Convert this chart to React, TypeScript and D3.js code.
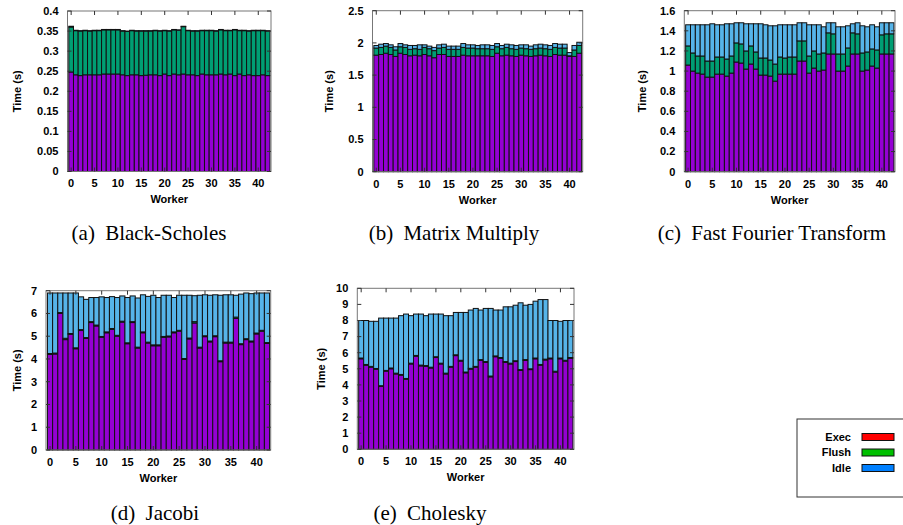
import React from "react";
import * as d3 from "d3";

// ---- data: one value per worker (0..42) ----
const workers = d3.range(43);

const bsExec = [0.248, 0.241, 0.239, 0.241, 0.241, 0.241, 0.241, 0.243, 0.243, 0.243, 0.243, 0.241, 0.239, 0.241, 0.241, 0.239, 0.24, 0.241, 0.241, 0.239, 0.243, 0.239, 0.243, 0.241, 0.243, 0.241, 0.241, 0.239, 0.243, 0.241, 0.241, 0.241, 0.243, 0.241, 0.243, 0.239, 0.243, 0.239, 0.241, 0.239, 0.239, 0.241, 0.239];
const bsFlushTop = [0.36, 0.351, 0.35, 0.351, 0.35, 0.351, 0.351, 0.353, 0.353, 0.353, 0.353, 0.35, 0.349, 0.351, 0.35, 0.35, 0.35, 0.35, 0.351, 0.35, 0.351, 0.35, 0.353, 0.352, 0.361, 0.351, 0.35, 0.35, 0.351, 0.351, 0.351, 0.35, 0.353, 0.351, 0.351, 0.353, 0.351, 0.351, 0.35, 0.351, 0.351, 0.351, 0.35];
const bsTotal = [0.362, 0.352, 0.351, 0.352, 0.351, 0.352, 0.352, 0.354, 0.354, 0.354, 0.354, 0.351, 0.35, 0.352, 0.351, 0.351, 0.351, 0.351, 0.352, 0.351, 0.352, 0.351, 0.354, 0.353, 0.362, 0.352, 0.351, 0.351, 0.352, 0.352, 0.352, 0.351, 0.354, 0.352, 0.352, 0.354, 0.352, 0.352, 0.351, 0.352, 0.352, 0.352, 0.351];

const mmExec = [1.81, 1.82, 1.84, 1.82, 1.79, 1.84, 1.82, 1.8, 1.81, 1.8, 1.82, 1.8, 1.77, 1.82, 1.82, 1.79, 1.79, 1.79, 1.81, 1.8, 1.8, 1.8, 1.8, 1.8, 1.79, 1.84, 1.8, 1.81, 1.8, 1.79, 1.81, 1.8, 1.79, 1.8, 1.81, 1.8, 1.79, 1.82, 1.81, 1.81, 1.79, 1.79, 1.84];
const mmFlushTop = [1.92, 1.93, 1.95, 1.93, 1.89, 1.94, 1.93, 1.9, 1.91, 1.9, 1.93, 1.91, 1.88, 1.92, 1.93, 1.9, 1.9, 1.9, 1.93, 1.92, 1.92, 1.91, 1.91, 1.91, 1.9, 1.94, 1.91, 1.93, 1.91, 1.9, 1.92, 1.91, 1.9, 1.91, 1.92, 1.91, 1.9, 1.93, 1.92, 1.92, 1.8, 1.89, 1.96];
const mmTotal = [1.96, 1.98, 1.99, 1.97, 1.94, 1.99, 1.97, 1.96, 1.96, 1.97, 1.97, 1.95, 1.93, 1.97, 1.98, 1.95, 1.95, 1.95, 1.99, 1.97, 1.97, 1.96, 1.97, 1.97, 1.96, 1.99, 1.96, 1.98, 1.97, 1.96, 1.97, 1.97, 1.95, 1.97, 1.98, 1.97, 1.96, 1.99, 1.98, 1.98, 1.85, 1.96, 2.01];

const fftExec = [1.06, 1.0, 0.98, 0.97, 0.94, 0.94, 0.97, 0.97, 0.95, 0.98, 1.09, 1.08, 1.02, 1.07, 1.02, 0.96, 0.96, 0.95, 0.9, 0.97, 0.97, 0.97, 0.97, 1.1, 1.1, 0.98, 1.03, 1.0, 1.01, 1.17, 1.17, 1.0, 1.0, 1.05, 1.17, 1.17, 1.0, 1.01, 1.05, 1.03, 1.17, 1.17, 1.17];
const fftFlushTop = [1.25, 1.18, 1.15, 1.15, 1.1, 1.1, 1.14, 1.14, 1.12, 1.15, 1.28, 1.27, 1.2, 1.25, 1.19, 1.13, 1.13, 1.11, 1.07, 1.14, 1.13, 1.14, 1.14, 1.3, 1.3, 1.15, 1.2, 1.17, 1.18, 1.38, 1.37, 1.17, 1.17, 1.23, 1.38, 1.37, 1.18, 1.19, 1.22, 1.21, 1.36, 1.37, 1.37];
const fftTotal = [1.46, 1.46, 1.46, 1.46, 1.46, 1.47, 1.46, 1.46, 1.47, 1.47, 1.48, 1.48, 1.47, 1.47, 1.47, 1.47, 1.46, 1.45, 1.45, 1.46, 1.46, 1.46, 1.46, 1.48, 1.48, 1.46, 1.46, 1.46, 1.44, 1.48, 1.48, 1.44, 1.44, 1.45, 1.47, 1.48, 1.45, 1.44, 1.46, 1.44, 1.48, 1.48, 1.48];

const jacExec = [4.2, 4.22, 6.0, 4.85, 5.08, 4.45, 5.25, 4.9, 5.6, 5.45, 4.95, 5.15, 5.3, 5.0, 5.62, 4.67, 5.6, 4.48, 5.15, 4.7, 4.58, 4.58, 4.95, 4.97, 5.15, 5.22, 3.98, 4.88, 5.58, 4.48, 4.98, 4.75, 4.98, 3.88, 4.7, 4.7, 5.78, 4.63, 4.85, 4.75, 5.1, 5.22, 4.68];
const jacFlush = [0.04, 0.04, 0.04, 0.06, 0.04, 0.04, 0.04, 0.04, 0.04, 0.04, 0.04, 0.04, 0.04, 0.04, 0.04, 0.04, 0.04, 0.04, 0.04, 0.04, 0.04, 0.04, 0.04, 0.04, 0.04, 0.04, 0.04, 0.04, 0.06, 0.04, 0.04, 0.04, 0.04, 0.04, 0.04, 0.04, 0.06, 0.04, 0.04, 0.04, 0.04, 0.04, 0.04];
const jacTotal = [6.9, 6.9, 6.9, 6.9, 6.9, 6.9, 6.73, 6.62, 6.7, 6.7, 6.73, 6.7, 6.74, 6.7, 6.77, 6.7, 6.77, 6.68, 6.82, 6.75, 6.8, 6.7, 6.8, 6.8, 6.7, 6.8, 6.8, 6.8, 6.78, 6.8, 6.82, 6.8, 6.82, 6.8, 6.82, 6.82, 6.8, 6.85, 6.9, 6.87, 6.9, 6.9, 6.9];

const chExec = [5.62, 5.22, 5.1, 4.97, 3.9, 4.85, 5.0, 4.68, 4.6, 4.35, 5.3, 5.78, 5.18, 5.15, 5.05, 5.7, 5.3, 4.68, 5.1, 5.82, 5.48, 4.75, 4.98, 5.1, 5.52, 5.4, 4.5, 5.75, 5.65, 5.4, 5.3, 5.45, 4.9, 5.52, 4.95, 5.62, 5.22, 5.55, 5.62, 4.8, 5.62, 5.48, 5.65];
const chFlush = [0.05, 0.05, 0.05, 0.05, 0.05, 0.05, 0.05, 0.05, 0.05, 0.05, 0.05, 0.05, 0.05, 0.05, 0.05, 0.05, 0.05, 0.05, 0.05, 0.05, 0.05, 0.05, 0.05, 0.05, 0.05, 0.05, 0.05, 0.05, 0.05, 0.05, 0.05, 0.05, 0.05, 0.05, 0.05, 0.05, 0.05, 0.05, 0.05, 0.05, 0.05, 0.05, 0.05];
const chTotal = [8.0, 8.0, 7.95, 7.95, 8.15, 8.15, 8.15, 8.15, 8.3, 8.4, 8.3, 8.4, 8.4, 8.3, 8.4, 8.4, 8.4, 8.3, 8.3, 8.5, 8.5, 8.5, 8.65, 8.75, 8.65, 8.75, 8.75, 8.65, 8.65, 8.85, 8.85, 8.95, 9.1, 8.95, 9.0, 9.2, 9.3, 9.3, 8.0, 8.0, 7.95, 8.0, 8.0];

const xTicks = [0, 5, 10, 15, 20, 25, 30, 35, 40];
const legendItems = ["Exec", "Flush", "Idle"];

const colors = { exec: "#9400d3", flush: "#009e73", idle: "#56b4e9" };
const legendColors = ["#ff0000", "#00c000", "#0080ff"];

const font = "'Liberation Sans', Arial, sans-serif";

type PanelProps = {
  left: number; right: number; top: number; bottom: number;
  yMax: number; yTicks: number[]; yFmt: (v: number) => string; yLabelX: number;
  exec: number[]; flushTop: number[]; total: number[];
  tag: string; caption: string; capX: number; capY: number;
};

function Panel(p: PanelProps) {
  const x = d3.scaleLinear().domain([-0.78, 42.72]).range([p.left, p.right]);
  const y = d3.scaleLinear().domain([0, p.yMax]).range([p.bottom, p.top]);
  const w = x(1) - x(0);
  const stacks = workers.map((i) => [
    { y0: 0, y1: p.exec[i], c: colors.exec },
    { y0: p.exec[i], y1: p.flushTop[i], c: colors.flush },
    { y0: p.flushTop[i], y1: p.total[i], c: colors.idle },
  ]);
  return (
    <g>
      {stacks.map((segs, i) =>
        segs.map((s, j) =>
          s.y1 - s.y0 > 0 ? (
            <rect key={i + "-" + j} x={x(i) - w / 2} y={y(s.y1)} width={w}
              height={y(s.y0) - y(s.y1)} fill={s.c} stroke="#111" strokeWidth={1} />
          ) : null
        )
      )}
      <rect x={p.left} y={p.top} width={p.right - p.left} height={p.bottom - p.top}
        fill="none" stroke="#777" strokeWidth={1} />
      {p.yTicks.map((t) => (
        <g key={"y" + t}>
          <line x1={p.left} x2={p.left + 4} y1={y(t)} y2={y(t)} stroke="#333" />
          <line x1={p.right - 4} x2={p.right} y1={y(t)} y2={y(t)} stroke="#333" />
          <text x={p.left - 9} y={y(t)} dy="0.35em" textAnchor="end" fontSize={11}
            fontWeight="bold" fontFamily={font}>{p.yFmt(t)}</text>
        </g>
      ))}
      {xTicks.map((t) => (
        <g key={"x" + t}>
          <line x1={x(t)} x2={x(t)} y1={p.bottom} y2={p.bottom - 4} stroke="#333" />
          <line x1={x(t)} x2={x(t)} y1={p.top} y2={p.top + 4} stroke="#333" />
          <text x={x(t)} y={p.bottom + 12} dy="0.35em" textAnchor="middle" fontSize={11}
            fontWeight="bold" fontFamily={font}>{t}</text>
        </g>
      ))}
      <text x={(p.left + p.right) / 2} y={p.bottom + 28} dy="0.35em" textAnchor="middle"
        fontSize={11} fontWeight="bold" fontFamily={font}>Worker</text>
      <text transform={`translate(${p.yLabelX},${(p.top + p.bottom) / 2}) rotate(-90)`}
        dy="0.35em" textAnchor="middle" fontSize={11} fontWeight="bold" fontFamily={font}>Time (s)</text>
      <text x={p.capX} y={p.capY} dy="0.35em" textAnchor="middle" fontSize={21}
        fontFamily="'Liberation Serif', 'Times New Roman', serif">
        <tspan>{p.tag}</tspan>
        <tspan dx={5}>{" " + p.caption}</tspan>
      </text>
    </g>
  );
}

const stackTop = (a: number[], b: number[]) => a.map((v, i) => v + b[i]);

export default function App() {
  return (
    <svg width={903} height={525} style={{ position: "absolute", left: 0, top: 0, background: "#fff" }}>
      <Panel left={67.5} right={271} top={11} bottom={171.5} yMax={0.4} yLabelX={17}
        yTicks={d3.range(0, 0.401, 0.05)} yFmt={(v) => String(+v.toFixed(2))}
        exec={bsExec} flushTop={bsFlushTop} total={bsTotal}
        tag="(a)" caption="Black-Scholes" capX={149} capY={233} />
      <Panel left={372.5} right={582.7} top={10.7} bottom={171.7} yMax={2.5} yLabelX={329}
        yTicks={d3.range(0, 2.51, 0.5)} yFmt={(v) => String(+v.toFixed(1))}
        exec={mmExec} flushTop={mmFlushTop} total={mmTotal}
        tag="(b)" caption="Matrix Multiply" capX={454} capY={233} />
      <Panel left={684.3} right={895} top={10.7} bottom={171.7} yMax={1.6} yLabelX={641.7}
        yTicks={d3.range(0, 1.61, 0.2)} yFmt={(v) => String(+v.toFixed(1))}
        exec={fftExec} flushTop={fftFlushTop} total={fftTotal}
        tag="(c)" caption="Fast Fourier Transform" capX={772} capY={233} />
      <Panel left={46} right={270.7} top={290.7} bottom={450} yMax={7} yLabelX={17}
        yTicks={d3.range(0, 7.01, 1)} yFmt={(v) => String(v)}
        exec={jacExec} flushTop={stackTop(jacExec, jacFlush)} total={jacTotal}
        tag="(d)" caption="Jacobi" capX={155} capY={513} />
      <Panel left={357.3} right={574} top={288.3} bottom={449.3} yMax={10} yLabelX={320.7}
        yTicks={d3.range(0, 10.01, 1)} yFmt={(v) => String(v)}
        exec={chExec} flushTop={stackTop(chExec, chFlush)} total={chTotal}
        tag="(e)" caption="Cholesky" capX={430} capY={513} />
      <g>
        <rect x={797} y={419} width={120} height={78} fill="#fff" stroke="#333" strokeWidth={1} />
        {legendItems.map((name, i) => (
          <g key={name}>
            <text x={851} y={437 + i * 15.5} dy="0.35em" textAnchor="end" fontSize={11}
              fontWeight="bold" fontFamily={font}>{name}</text>
            <rect x={862} y={433.5 + i * 15.5} width={32} height={7} fill={legendColors[i]}
              stroke="#111" strokeWidth={1} />
          </g>
        ))}
      </g>
    </svg>
  );
}
